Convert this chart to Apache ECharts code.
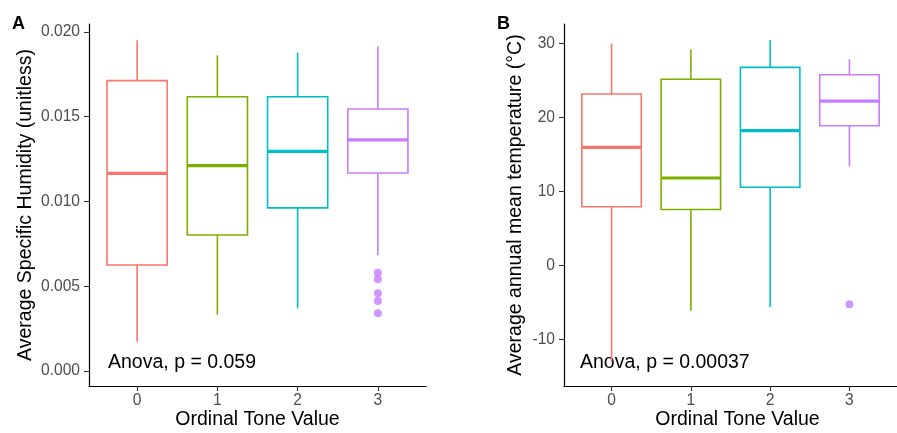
<!DOCTYPE html>
<html>
<head>
<meta charset="utf-8">
<script src="https://cdn.jsdelivr.net/npm/echarts@6/dist/echarts.min.js"></script>
<style>
  body { margin: 0; background: #fff; }
  #main { width: 897px; height: 433px; }
</style>
</head>
<body>
<div id="main"></div>
<script>
// categories on the x axis (tone values)
const categories = ['0', '1', '2', '3'];

// panel A: specific humidity, rows are [tone, lower whisker, Q1, median, Q3, upper whisker]
const humidityBoxes = [
  [0, 0.00173, 0.00625, 0.01166, 0.01713, 0.01951],
  [1, 0.00332, 0.00802, 0.01211, 0.01618, 0.01862],
  [2, 0.00370, 0.00962, 0.01296, 0.01618, 0.01878],
  [3, 0.00683, 0.01168, 0.01363, 0.01546, 0.01916]
];
const humidityOutliers = [[3, 0.00580], [3, 0.00541], [3, 0.00458], [3, 0.00413], [3, 0.00340]];
const humidityTicks = [0, 0.005, 0.010, 0.015, 0.020];

// panel B: annual mean temperature
const tempBoxes = [
  [0, -13.0, 7.97, 16.0, 23.2, 30.0],
  [1, -6.1, 7.6, 11.85, 25.2, 29.2],
  [2, -5.6, 10.6, 18.25, 26.8, 30.5],
  [3, 13.4, 18.9, 22.25, 25.8, 27.9]
];
const tempOutliers = [[3, -5.2]];
const tempTicks = [-10, 0, 10, 20, 30];

const anovaA = 'Anova, p = 0.059';
const anovaB = 'Anova, p = 0.00037';

const colors = ['#F8766D', '#7CAE00', '#00BFC4', '#C77CFF'];
const FONT = '"Liberation Sans", Arial, Helvetica, sans-serif';
const HALF = 0.375;

function renderBox(params, api) {
  const x = api.value(0);
  const lo = api.value(1), q1 = api.value(2), med = api.value(3), q3 = api.value(4), hi = api.value(5);
  const c = colors[params.dataIndex];
  const tl = api.coord([x - HALF, q3]);
  const br = api.coord([x + HALF, q1]);
  const mTop = api.coord([x, hi]);
  const mQ3 = api.coord([x, q3]);
  const mQ1 = api.coord([x, q1]);
  const mLo = api.coord([x, lo]);
  const medL = api.coord([x - HALF, med]);
  const medR = api.coord([x + HALF, med]);
  return {
    type: 'group',
    children: [
      { type: 'line', shape: { x1: mTop[0], y1: mTop[1], x2: mQ3[0], y2: mQ3[1] }, style: { stroke: c, lineWidth: 1.6 } },
      { type: 'line', shape: { x1: mQ1[0], y1: mQ1[1], x2: mLo[0], y2: mLo[1] }, style: { stroke: c, lineWidth: 1.6 } },
      { type: 'rect', shape: { x: tl[0], y: tl[1], width: br[0] - tl[0], height: br[1] - tl[1] }, style: { fill: 'none', stroke: c, lineWidth: 1.6 } },
      { type: 'line', shape: { x1: medL[0], y1: medL[1], x2: medR[0], y2: medR[1] }, style: { stroke: c, lineWidth: 3.2 } }
    ]
  };
}

function xAxisOf(gridIndex) {
  return {
    type: 'value', gridIndex: gridIndex, position: 'bottom', min: -0.6, max: 3.6,
    splitLine: { show: false },
    axisLine: { show: true, onZero: false, lineStyle: { color: '#000', width: 1.2 } },
    axisTick: { show: true, length: 5, customValues: [0, 1, 2, 3], lineStyle: { color: '#333', width: 1.1 } },
    axisLabel: {
      customValues: [0, 1, 2, 3], margin: 7, color: '#4D4D4D', fontSize: 15.6, fontFamily: FONT,
      formatter: v => categories[Math.round(v)]
    }
  };
}

function yAxisOf(gridIndex, min, max, ticks, fmt) {
  return {
    type: 'value', gridIndex: gridIndex, position: 'left', min: min, max: max,
    splitLine: { show: false },
    axisLine: { show: true, onZero: false, lineStyle: { color: '#000', width: 1.2 } },
    axisTick: { show: true, length: 5, customValues: ticks, lineStyle: { color: '#333', width: 1.1 } },
    axisLabel: { customValues: ticks, margin: 9, color: '#4D4D4D', fontSize: 15.6, fontFamily: FONT, formatter: fmt }
  };
}

const chart = echarts.init(document.getElementById('main'));
chart.setOption({
  animation: false,
  backgroundColor: '#fff',
  grid: [
    { left: 89, top: 24, width: 337, height: 362 },
    { left: 564, top: 24, width: 347, height: 362 }
  ],
  xAxis: [xAxisOf(0), xAxisOf(1)],
  yAxis: [
    yAxisOf(0, -0.000885, 0.02047, humidityTicks, v => v.toFixed(3)),
    yAxisOf(1, -16.26, 32.66, tempTicks, v => String(v))
  ],
  series: [
    { type: 'custom', xAxisIndex: 0, yAxisIndex: 0, renderItem: renderBox, encode: { x: 0, y: [1, 2, 3, 4, 5] }, data: humidityBoxes },
    { type: 'scatter', xAxisIndex: 0, yAxisIndex: 0, symbolSize: 8, itemStyle: { color: colors[3] }, data: humidityOutliers },
    { type: 'custom', xAxisIndex: 1, yAxisIndex: 1, renderItem: renderBox, encode: { x: 0, y: [1, 2, 3, 4, 5] }, data: tempBoxes },
    { type: 'scatter', xAxisIndex: 1, yAxisIndex: 1, symbolSize: 8, itemStyle: { color: colors[3] }, data: tempOutliers }
  ],
  graphic: [
    { type: 'text', left: 12, top: 15, style: { text: 'A', font: 'bold 18px ' + FONT, fill: '#000' } },
    { type: 'text', left: 497, top: 15, style: { text: 'B', font: 'bold 18px ' + FONT, fill: '#000' } },
    { type: 'text', x: 26, y: 205, rotation: Math.PI / 2, style: { text: 'Average Specific Humidity (unitless)', font: '19.5px ' + FONT, fill: '#000', align: 'center', verticalAlign: 'middle' } },
    { type: 'text', x: 516, y: 205, rotation: Math.PI / 2, style: { text: 'Average annual mean temperature (°C)', font: '19.5px ' + FONT, fill: '#000', align: 'center', verticalAlign: 'middle' } },
    { type: 'text', x: 257.5, y: 420, style: { text: 'Ordinal Tone Value', font: '19.5px ' + FONT, fill: '#000', align: 'center', verticalAlign: 'middle' } },
    { type: 'text', x: 737.5, y: 420, style: { text: 'Ordinal Tone Value', font: '19.5px ' + FONT, fill: '#000', align: 'center', verticalAlign: 'middle' } },
    { type: 'text', x: 108, y: 363, style: { text: anovaA, font: '19.5px ' + FONT, fill: '#000', align: 'left', verticalAlign: 'middle' } },
    { type: 'text', x: 580, y: 363, style: { text: anovaB, font: '19.5px ' + FONT, fill: '#000', align: 'left', verticalAlign: 'middle' } }
  ]
});
</script>
</body>
</html>
